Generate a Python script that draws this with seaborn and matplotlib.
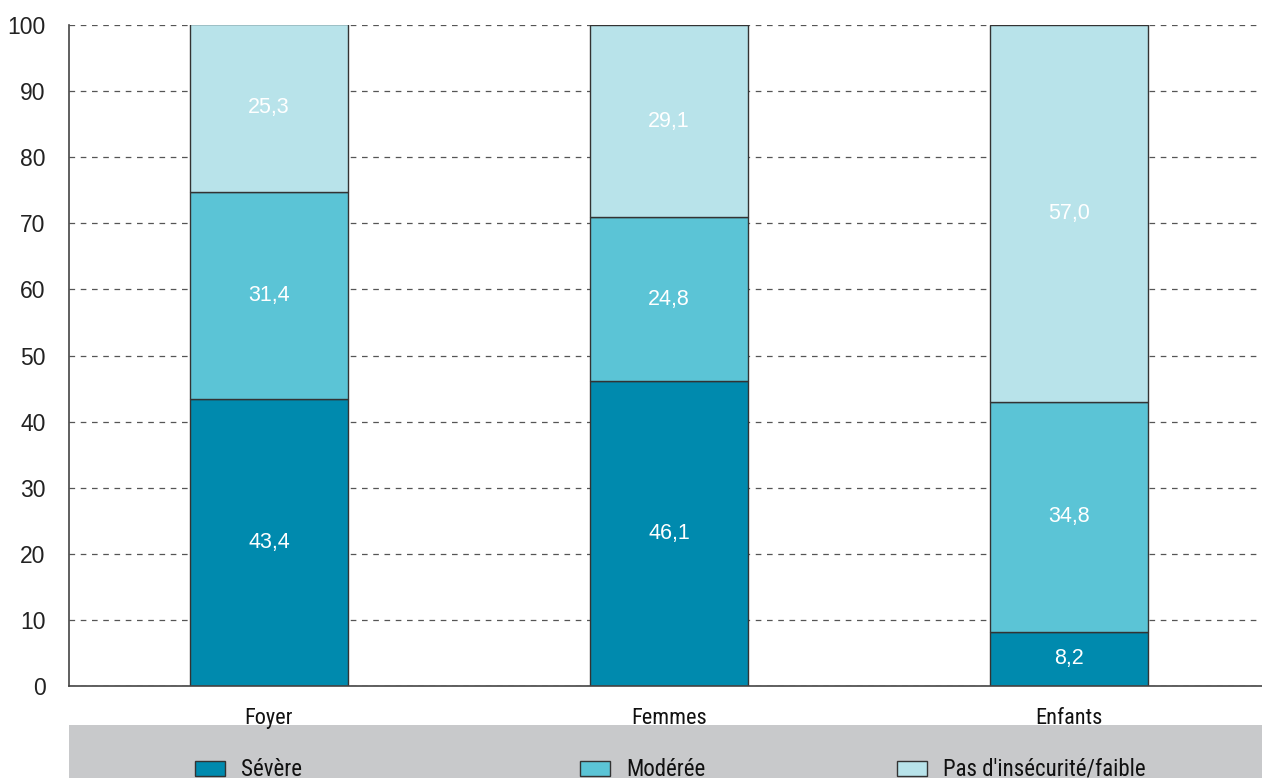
import matplotlib
matplotlib.use("Agg")
import matplotlib.pyplot as plt
import seaborn as sns
import numpy as np
import pandas as pd
from matplotlib.patches import Rectangle

categories = ["Foyer", "Femmes", "Enfants"]
severe = [43.4, 46.1, 8.2]
moderee = [31.4, 24.8, 34.8]
pas = [25.3, 29.1, 57.0]
series_names = ["Sévère", "Modérée", "Pas d'insécurité/faible"]
colors = ["#008aae", "#5bc4d6", "#b8e3ea"]
yticks = [0, 10, 20, 30, 40, 50, 60, 70, 80, 90, 100]

sns.set_style("white")
plt.rcParams['font.family'] = ['Liberation Sans', 'DejaVu Sans']
COND = ["Roboto Condensed", "Archivo Narrow", "DejaVu Sans"]

W, H = 1262, 778
fig = plt.figure(figsize=(W / 100, H / 100), dpi=100)
ax = fig.add_axes([69 / W, 1 - 686 / H, 1200 / W, 661 / H])

bottoms = np.zeros(len(categories))
for vals, col in zip([severe, moderee, pas], colors):
    sns.barplot(x=categories, y=vals, bottom=bottoms, color=col, width=0.395,
                edgecolor="#333333", linewidth=1.0, ax=ax, saturation=1,
                order=categories)
    for i, v in enumerate(vals):
        ax.text(i, bottoms[i] + v / 2, f"{v:.1f}".replace(".", ","),
                ha="center", va="center", color="white", fontsize=15.5)
    bottoms = bottoms + np.array(vals)

ax.set_xlim(-0.5, 2.5)
ax.set_ylim(0, 100)
ax.set_yticks(yticks)
ax.set_yticklabels([str(t) for t in yticks], fontsize=16.5, color="#222222")
ax.yaxis.grid(True, linestyle=(0, (4.5, 4.5)), color="#555555", linewidth=0.9)
ax.set_axisbelow(True)
ax.set_xticks([0, 1, 2])
ax.set_xticklabels(categories, fontsize=16, color="#111111", family=COND)
ax.tick_params(axis="x", length=0, pad=16)
ax.tick_params(axis="y", length=5, width=1, color="#555555", direction="out", pad=12)
ax.set_xticks([-0.5, 0.5, 1.5], minor=True)
ax.tick_params(axis="x", which="minor", length=6, width=1, color="#555555")
for s in ["top", "right"]:
    ax.spines[s].set_visible(False)
for s in ["left", "bottom"]:
    ax.spines[s].set_color("#444444")
    ax.spines[s].set_linewidth(1.2)
ax.set_xlabel("")
ax.set_ylabel("")

# legend band
fig.patches.append(Rectangle((69 / W, 0), (W - 69) / W, 53 / H,
                             transform=fig.transFigure, facecolor="#c8c9cb",
                             edgecolor="none", zorder=-1))
legend_x = [195, 580, 897]
for lx, name, col in zip(legend_x, series_names, colors):
    fig.patches.append(Rectangle((lx / W, 2 / H), 30 / W, 15 / H,
                                 transform=fig.transFigure, facecolor=col,
                                 edgecolor="#333333", linewidth=1.0, zorder=1))
    fig.text((lx + 46) / W, 9 / H, name, fontsize=16.5, va="center", ha="left",
             color="#111111", family=COND)

fig.savefig("out.png", dpi=100)
